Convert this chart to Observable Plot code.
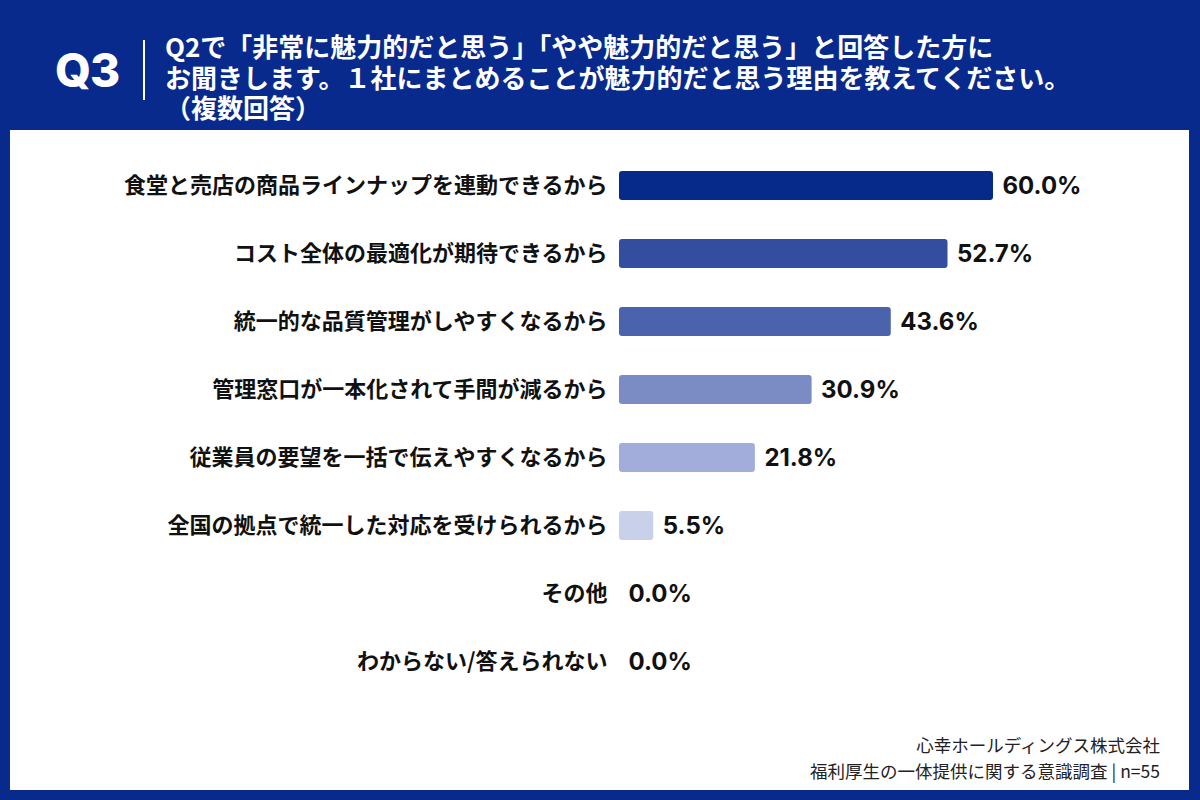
<!DOCTYPE html>
<html lang="ja">
<head>
<meta charset="utf-8">
<script src="https://cdn.jsdelivr.net/npm/d3@7"></script>
<script src="https://cdn.jsdelivr.net/npm/@observablehq/plot@0.6"></script>
<style>
  html, body { margin: 0; padding: 0; }
  body { width: 1200px; height: 800px; background: #072a8c; position: relative; overflow: hidden;
         font-family: "Noto Sans CJK JP", "Noto Sans", sans-serif; }
  #q { position: absolute; left: 55px; top: 40px; font-family: Inter, "Liberation Sans", sans-serif;
       font-weight: 800; font-size: 46px; color: #fff; line-height: 60px; letter-spacing: -1px; }
  #sep { position: absolute; left: 143px; top: 40px; width: 2px; height: 60px; background: #fff; }
  .tl { position: absolute; left: 165px; color: #fff; font-weight: bold; font-size: 26px;
        line-height: 28px; white-space: nowrap; }
  #panel { position: absolute; left: 10px; top: 130px; width: 1179px; height: 660px; background: #fff; }
  #chart { position: absolute; left: 0; top: 130px; }
  .ft { position: absolute; right: 40px; text-align: right; color: #222; font-size: 17.5px;
        line-height: 22px; white-space: nowrap; }
  #chart svg [aria-label="y-axis tick label"] text { font-weight: bold; }
</style>
</head>
<body>
<div id="q">Q3</div>
<div id="sep"></div>
<div class="tl" style="top:32px">Q2で「非常に魅力的だと思う」「やや魅力的だと思う」と回答した方に</div>
<div class="tl" style="top:63px">お聞きします。１社にまとめることが魅力的だと思う理由を教えてください。</div>
<div class="tl" style="top:93px">（複数回答）</div>
<div id="panel"></div>
<div id="chart"></div>
<div class="ft" style="top:734px">心幸ホールディングス株式会社</div>
<div class="ft" style="top:760px">福利厚生の一体提供に関する意識調査 | n=55</div>
<script>
const categories = [
  "食堂と売店の商品ラインナップを連動できるから",
  "コスト全体の最適化が期待できるから",
  "統一的な品質管理がしやすくなるから",
  "管理窓口が一本化されて手間が減るから",
  "従業員の要望を一括で伝えやすくなるから",
  "全国の拠点で統一した対応を受けられるから",
  "その他",
  "わからない/答えられない"
];
const values = [60.0, 52.7, 43.6, 30.9, 21.8, 5.5, 0.0, 0.0];
const colors = ["#062a8a", "#344e9f", "#4b63ad", "#7b8bc4", "#a3addc", "#c9d1ea", "#d0d6ec", "#d0d6ec"];

const data = categories.map((c, i) => ({category: c, value: values[i], color: colors[i]}));

const chart = Plot.plot({
  width: 1200,
  height: 600,
  marginLeft: 619,
  marginRight: 207,
  marginTop: 18.5,
  marginBottom: 32,
  style: {background: "transparent", fontFamily: "'Noto Sans CJK JP', sans-serif", color: "#111"},
  x: {domain: [0, 60], axis: null},
  y: {domain: categories, paddingInner: 0.577, paddingOuter: 0.2885, label: null, axis: null},
  marks: [
    Plot.barX(data, {x: "value", y: "category", fill: "color", rx: 3}),
    Plot.text(data, {x: "value", y: "category", text: d => d.value.toFixed(1) + "%", textAnchor: "start",
      dx: 9, fontSize: 24, fontWeight: "bold", fill: "#111", fontFamily: "Inter, 'Liberation Sans', sans-serif"}),
    Plot.axisY({tickSize: 0, tickPadding: 12, fontSize: 22, fontWeight: "bold", fill: "#111", label: null})
  ]
});
document.getElementById("chart").appendChild(chart);
</script>
</body>
</html>
